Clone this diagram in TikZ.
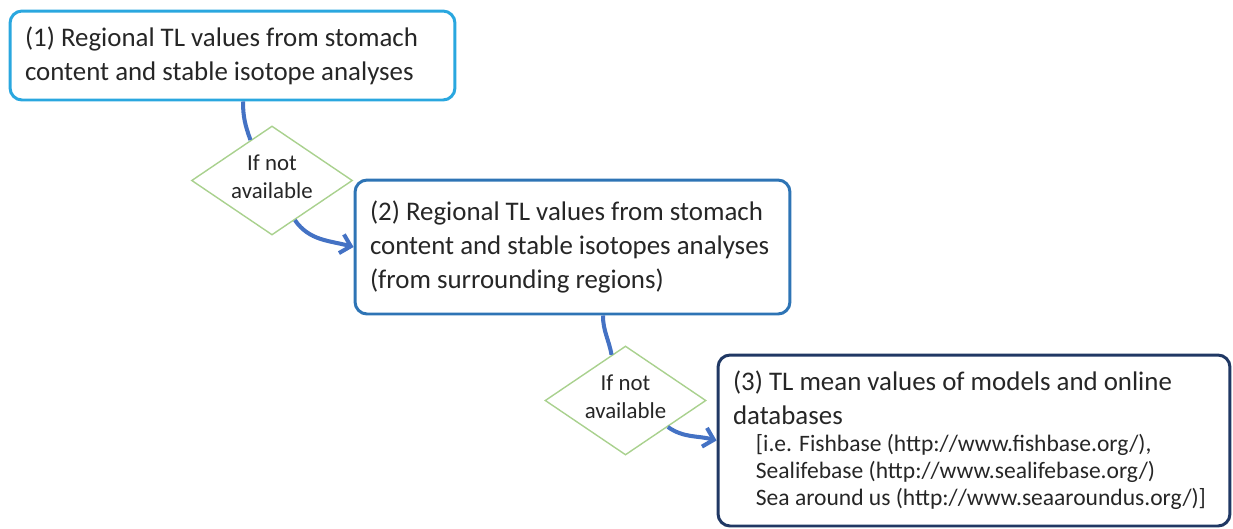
\documentclass[tikz,border=0pt]{standalone}
\usepackage{fontspec}
\setmainfont{Carlito}
\usetikzlibrary{shapes.geometric,arrows.meta}

\definecolor{clrone}{HTML}{2AA7DF}
\definecolor{clrtwo}{HTML}{2E74B5}
\definecolor{clrthree}{HTML}{203864}
\definecolor{clrflow}{HTML}{4472C4}
\definecolor{clrdec}{HTML}{A9D18E}
\definecolor{clrtxt}{HTML}{262626}

\begin{document}
\begin{tikzpicture}[x=0.02cm,y=0.02cm,
	stepbox/.style={draw,rounded corners=0.24cm,line width=1.7pt,align=flush left,
		inner xsep=0.3cm,inner ysep=0pt,text=clrtxt,
		font=\fontsize{15.3}{19.4}\selectfont},
	decision/.style={diamond,draw=clrdec,line width=0.8pt,inner sep=0pt,
		minimum width=3.22cm,minimum height=2.18cm,
		label={[font=\fontsize{13}{16}\selectfont,align=center,text=clrtxt,yshift=0.08cm]center:If not\\available}},
	link/.style={draw=clrflow,line width=2.3pt},
	flow/.style={link,-{Straight Barb[length=5.5pt,width=11pt]}},
]
\useasboundingbox (0,0) rectangle (1233,-528);

% the three sources of TL values
\node[stepbox,draw=clrone,text width=8.3cm,minimum height=1.78cm] (regional) at (232.5,-55.5)
	{(1) Regional TL values from stomach\\ content and stable isotope analyses};
\node[stepbox,draw=clrtwo,text width=8.1cm,minimum height=2.68cm] (surround) at (572.5,-247)
	{(2) Regional TL values from stomach\\ content and stable isotopes analyses\\ (from surrounding regions)};
\node[stepbox,draw=clrthree,text width=9.64cm,minimum height=3.42cm] (tlmean) at (974,-440.5)
	{(3) TL mean values of models and online\\ databases\par
	{\fontsize{13.4}{15.4}\selectfont\leftskip=13pt
	\mbox{[i.e. Fishbase (http://www.fishbase.org/),}\\
	\mbox{Sealifebase (http://www.sealifebase.org/)}\\
	\mbox{Sea around us (http://www.seaaroundus.org/)]}\par}};

% decisions
\node[decision] (notavailA) at (272,-180.5) {};
\node[decision] (notavailB) at (625.5,-400.5) {};

% connectors
\draw[link] ([xshift=0.21cm]regional.south) to[out=-90,in=110] (notavailA.118);
\draw[flow] (notavailA.-60) to[out=-55,in=165] (surround.west);
\draw[link] ([xshift=0.61cm]surround.south) to[out=-90,in=100] (notavailB.107);
\draw[flow] (notavailB.-32) to[out=-35,in=165] (tlmean.west);

\end{tikzpicture}
\end{document}
